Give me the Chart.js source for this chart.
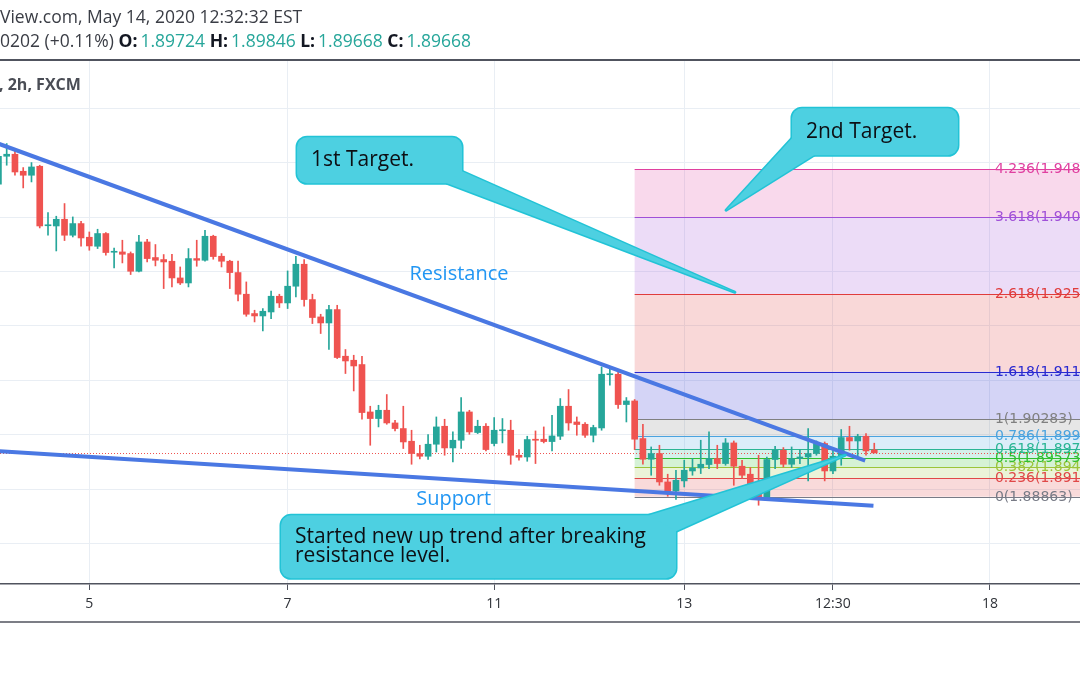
<!DOCTYPE html>
<html>
<head>
<meta charset="utf-8">
<script src="https://cdn.jsdelivr.net/npm/chart.js@4/dist/chart.umd.min.js"></script>
<style>
  html, body { margin: 0; padding: 0; background: #fff; }
  #marco { position: relative; width: 1080px; height: 675px; overflow: hidden; }
  #grafica { position: absolute; left: 0; top: 0; }
  .cab { position: absolute; left: 0; white-space: nowrap; font-family: "Open Sans", sans-serif; color: #3a3d45; }
  #linea1 { top: 4px; font-size: 17.5px; }
  #linea2 { top: 28px; font-size: 17.5px; }
  #linea2 b { color: #131722; }
  #linea2 span { color: #26a69a; margin-left: 3px; }
  #simbolo { top: 73px; left: -1px; font-size: 16px; font-weight: bold; color: #4a4d55; }
</style>
</head>
<body>
<div id="marco">
  <canvas id="grafica" width="1080" height="675"></canvas>
  <div class="cab" id="linea1">View.com, May 14, 2020 12:32:32 EST</div>
  <div class="cab" id="linea2">0202 (+0.11%) <b>O:</b><span>1.89724</span> <b>H:</b><span>1.89846</span> <b>L:</b><span>1.89668</span> <b>C:</b><span>1.89668</span></div>
  <div class="cab" id="simbolo">, 2h, FXCM</div>
</div>
<script>
// velas de 2h, GBP/CAD aprox. (indice de vela en el eje x)
const aperturas = [
  1.94603, 1.95118, 1.95155, 1.94842, 1.94769, 1.94934, 1.93841, 1.93837, 1.93960, 1.93667,
  1.93881, 1.93630, 1.93464, 1.93698, 1.93354, 1.93360, 1.93330, 1.93005, 1.93543, 1.93257,
  1.93220, 1.93189, 1.92882, 1.92790, 1.93238, 1.93207, 1.93648, 1.93281, 1.93189, 1.92981,
  1.92583, 1.92228, 1.92184, 1.92257, 1.92546, 1.92423, 1.92730, 1.93134, 1.92485, 1.92166,
  1.92055, 1.92301, 1.91444, 1.91370, 1.91291, 1.90420, 1.90299, 1.90451, 1.90218, 1.90115,
  1.89882, 1.89656, 1.89606, 1.89827, 1.90157, 1.89759, 1.89900, 1.90420, 1.90042, 1.90157,
  1.89840, 1.90075, 1.90084, 1.89625, 1.89593, 1.89919, 1.89919, 1.89876, 1.89974, 1.90525,
  1.90236, 1.90194, 1.89992, 1.90126, 1.91104, 1.91113, 1.90556, 1.90622, 1.89931, 1.89551,
  1.89656, 1.89134, 1.88969, 1.89153, 1.89336, 1.89391, 1.89454, 1.89564, 1.89472, 1.89851,
  1.89423, 1.89276, 1.89042, 1.88848, 1.89546, 1.89717, 1.89459, 1.89564, 1.89593, 1.89656,
  1.89840, 1.89336, 1.89606, 1.89950, 1.89887, 1.89974, 1.89724
];
const maximos = [
  1.95228, 1.95351, 1.95215, 1.94910, 1.95002, 1.94953, 1.94084, 1.94016, 1.94249, 1.94003,
  1.93924, 1.93727, 1.93777, 1.93716, 1.93433, 1.93575, 1.93360, 1.93667, 1.93593, 1.93496,
  1.93312, 1.93317, 1.93084, 1.93422, 1.93575, 1.93758, 1.93667, 1.93330, 1.93207, 1.93194,
  1.92809, 1.92289, 1.92320, 1.92643, 1.92583, 1.93011, 1.93281, 1.93220, 1.92583, 1.92215,
  1.92380, 1.92380, 1.91567, 1.91462, 1.91444, 1.90525, 1.90543, 1.90740, 1.90268, 1.90525,
  1.90084, 1.89808, 1.90005, 1.90328, 1.90286, 1.90053, 1.90685, 1.90451, 1.90268, 1.90207,
  1.90317, 1.90299, 1.90268, 1.89729, 1.89974, 1.90071, 1.90145, 1.90360, 1.90666, 1.90832,
  1.90328, 1.90225, 1.90176, 1.91247, 1.91260, 1.91186, 1.90685, 1.90648, 1.90194, 1.89777,
  1.89808, 1.89276, 1.89349, 1.89533, 1.89564, 1.89900, 1.90053, 1.89808, 1.89931, 1.89887,
  1.89533, 1.89399, 1.89625, 1.89593, 1.89790, 1.89766, 1.89777, 1.89729, 1.90115, 1.89887,
  1.89869, 1.89717, 1.90097, 1.90157, 1.90010, 1.90023, 1.89846
];
const minimos = [
  1.94548, 1.94953, 1.94769, 1.94536, 1.94646, 1.93801, 1.93667, 1.93378, 1.93569, 1.93635,
  1.93464, 1.93391, 1.93422, 1.93299, 1.93066, 1.93158, 1.92945, 1.92992, 1.93176, 1.93103,
  1.92687, 1.92717, 1.92761, 1.92717, 1.93097, 1.93189, 1.93226, 1.93084, 1.92687, 1.92459,
  1.92178, 1.92074, 1.91908, 1.92136, 1.92338, 1.92320, 1.92533, 1.92362, 1.92044, 1.91861,
  1.91567, 1.91401, 1.91126, 1.90806, 1.90286, 1.89808, 1.90145, 1.90194, 1.90071, 1.89748,
  1.89459, 1.89557, 1.89546, 1.89685, 1.89625, 1.89502, 1.89748, 1.90010, 1.90023, 1.89704,
  1.89796, 1.89851, 1.89459, 1.89533, 1.89514, 1.89472, 1.89851, 1.89704, 1.89913, 1.90084,
  1.89992, 1.89950, 1.89869, 1.90084, 1.90911, 1.90483, 1.90236, 1.89729, 1.89459, 1.89257,
  1.89073, 1.88871, 1.88811, 1.89042, 1.89257, 1.89288, 1.89380, 1.89380, 1.89441, 1.89073,
  1.89197, 1.88890, 1.88706, 1.88829, 1.89380, 1.89410, 1.89399, 1.89472, 1.89153, 1.89625,
  1.89153, 1.89288, 1.89441, 1.89717, 1.89606, 1.89625, 1.89668
];
const cierres = [
  1.95118, 1.95155, 1.94829, 1.94769, 1.94921, 1.93837, 1.93859, 1.93960, 1.93667, 1.93881,
  1.93617, 1.93470, 1.93698, 1.93349, 1.93367, 1.93317, 1.93005, 1.93543, 1.93238, 1.93207,
  1.93176, 1.92882, 1.92790, 1.93238, 1.93207, 1.93648, 1.93275, 1.93189, 1.92981, 1.92583,
  1.92215, 1.92184, 1.92270, 1.92546, 1.92423, 1.92730, 1.93134, 1.92485, 1.92155, 1.92055,
  1.92301, 1.91420, 1.91357, 1.91265, 1.90409, 1.90299, 1.90451, 1.90218, 1.90115, 1.89869,
  1.89656, 1.89606, 1.89827, 1.90145, 1.89759, 1.89900, 1.90420, 1.90053, 1.90157, 1.89729,
  1.90084, 1.90093, 1.89625, 1.89588, 1.89913, 1.89900, 1.89876, 1.89979, 1.90525, 1.90218,
  1.90189, 1.89992, 1.90134, 1.91113, 1.91122, 1.90556, 1.90622, 1.89919, 1.89551, 1.89656,
  1.89134, 1.88969, 1.89165, 1.89349, 1.89391, 1.89459, 1.89564, 1.89472, 1.89851, 1.89423,
  1.89257, 1.89031, 1.88848, 1.89546, 1.89717, 1.89459, 1.89564, 1.89593, 1.89656, 1.89840,
  1.89336, 1.89606, 1.89950, 1.89887, 1.89974, 1.89704, 1.89668
];

// eje de tiempo
const marcasIdx = [11, 35, 60, 83, 101, 120];
const marcasTexto = ["5", "7", "11", "13", "12:30", "18"];
// rejilla de precios
const rejillaPrecios = [1.88, 1.89, 1.90, 1.91, 1.92, 1.93, 1.94, 1.95, 1.96];

// lineas de tendencia [indice, precio]
const resistencia = [[0, 1.95349], [104.9, 1.89524]];
const soporte = [[0, 1.89700], [105.9, 1.88697]];

// extension de Fibonacci
const fibNiveles = [0, 0.236, 0.382, 0.5, 0.618, 0.786, 1, 1.618, 2.618, 3.618, 4.236];
const fibPrecios = [1.88863, 1.89198, 1.89405, 1.89573, 1.89741, 1.89979, 1.90283, 1.91161, 1.92581, 1.94001, 1.94878];
const fibColores = ["#787b86", "#e04848", "#9cc43a", "#2fbf2f", "#2bb594", "#4aa3df", "#808080", "#2a2ad0", "#e03c3c", "#a050d8", "#e040a0"];
const fibInicio = 77;
const fibEtiquetaIdx = 120.6;

const precioActual = 1.89668;

const verde = "#26a69a";
const rojo = "#ef5350";
const indices = aperturas.map((_, i) => i);
const coloresVela = indices.map((i) => (cierres[i] >= aperturas[i] ? verde : rojo));

function conAlfa(hex, a) {
    const n = parseInt(hex.slice(1), 16);
    return `rgba(${n >> 16}, ${(n >> 8) & 255}, ${n & 255}, ${a})`;
}

// Globos de texto (caja anclada a indice/precio, tamano en px)
const globos = [
    { lineas: ["1st Target."], ix: 36.14, precio: 1.95467, ancho: 165, alto: 46,
      puntaIx: 89.14, puntaPrecio: 1.92619, base: [[150, 46], [165, 34]] },
    { lineas: ["2nd Target."], ix: 96.04, precio: 1.96000, ancho: 166, alto: 47,
      puntaIx: 88.06, puntaPrecio: 1.94126, base: [[0, 30], [22, 47]] },
    { lineas: ["Started new up trend after breaking", "resistance level."], ix: 34.2, precio: 1.88522, ancho: 395, alto: 63,
      puntaIx: 102.5, puntaPrecio: 1.89625, base: [[368, 0], [395, 16]] },
];

const textosLibres = [
    { texto: "Resistance", ix: 55.74, precio: 1.92950 },
    { texto: "Support", ix: 55.1, precio: 1.88816 },
];

const fibPlugin = {
    id: "fibExtension",
    beforeDatasetsDraw(chart) {
        const { ctx, chartArea, scales: { x, y } } = chart;
        const izq = x.getPixelForValue(fibInicio);
        const der = chartArea.right;
        ctx.save();
        ctx.beginPath();
        ctx.rect(chartArea.left, chartArea.top, chartArea.right - chartArea.left, chartArea.bottom - chartArea.top);
        ctx.clip();
        for (let k = 1; k < fibPrecios.length; k++) {
            const arriba = y.getPixelForValue(fibPrecios[k]);
            const abajo = y.getPixelForValue(fibPrecios[k - 1]);
            ctx.fillStyle = conAlfa(fibColores[k], 0.2);
            ctx.fillRect(izq, arriba, der - izq, abajo - arriba);
        }
        ctx.lineWidth = 1.2;
        ctx.font = '14px "DejaVu Sans"';
        ctx.textBaseline = "middle";
        const etiquetaX = x.getPixelForValue(fibEtiquetaIdx);
        fibPrecios.forEach((p, k) => {
            const py = Math.round(y.getPixelForValue(p)) + 0.5;
            ctx.strokeStyle = fibColores[k];
            ctx.beginPath();
            ctx.moveTo(izq, py);
            ctx.lineTo(der, py);
            ctx.stroke();
            ctx.fillStyle = fibColores[k];
            ctx.fillText(`${fibNiveles[k]}(${p.toFixed(5)})`, etiquetaX, py);
        });
        // linea de precio actual
        const py = Math.round(y.getPixelForValue(precioActual)) + 0.5;
        ctx.strokeStyle = rojo;
        ctx.lineWidth = 1;
        ctx.setLineDash([1, 2]);
        ctx.beginPath();
        ctx.moveTo(chartArea.left, py);
        ctx.lineTo(chartArea.right, py);
        ctx.stroke();
        ctx.restore();
    },
};

const notasPlugin = {
    id: "notas",
    afterDatasetsDraw(chart) {
        const { ctx, scales: { x, y } } = chart;
        ctx.save();
        ctx.font = '20px "Open Sans"';
        ctx.fillStyle = "#2196f3";
        ctx.textAlign = "center";
        ctx.textBaseline = "middle";
        textosLibres.forEach((t) => {
            ctx.fillText(t.texto, x.getPixelForValue(t.ix), y.getPixelForValue(t.precio));
        });

        globos.forEach((g) => {
            const bx = x.getPixelForValue(g.ix);
            const by = y.getPixelForValue(g.precio);
            const tx = x.getPixelForValue(g.puntaIx);
            const ty = y.getPixelForValue(g.puntaPrecio);
            const caja = () => {
                ctx.beginPath();
                ctx.roundRect(bx, by, g.ancho, g.alto, 10);
            };
            const cola = () => {
                ctx.beginPath();
                ctx.moveTo(bx + g.base[0][0], by + g.base[0][1]);
                ctx.lineTo(tx, ty);
                ctx.lineTo(bx + g.base[1][0], by + g.base[1][1]);
                ctx.closePath();
            };
            ctx.lineWidth = 3;
            ctx.lineJoin = "round";
            ctx.strokeStyle = "#22c3d6";
            caja(); ctx.stroke();
            cola(); ctx.stroke();
            ctx.fillStyle = "#4dd0e1";
            caja(); ctx.fill();
            cola(); ctx.fill();

            ctx.fillStyle = "#0d0f14";
            ctx.textAlign = "left";
            ctx.font = '21px "Open Sans"';
            const alturaLinea = 19;
            const y0 = by + g.alto / 2 - ((g.lineas.length - 1) * alturaLinea) / 2;
            g.lineas.forEach((l, n) => ctx.fillText(l, bx + 14, y0 + n * alturaLinea));
        });
        ctx.restore();
    },
    afterDraw(chart) {
        const { ctx } = chart;
        ctx.save();
        ctx.strokeStyle = "#50535e";
        ctx.lineWidth = 2;
        ctx.beginPath();
        ctx.moveTo(0, 60);
        ctx.lineTo(1080, 60);
        ctx.stroke();
        ctx.lineWidth = 1.5;
        ctx.beginPath();
        ctx.moveTo(0, 622);
        ctx.lineTo(1080, 622);
        ctx.stroke();
        ctx.restore();
    },
};

const ctxVelas = document.getElementById("grafica").getContext("2d");

new Chart(ctxVelas, {
    type: "bar",
    data: {
        datasets: [
            {
                label: "Resistencia",
                type: "line",
                data: resistencia.map(([i, p]) => ({ x: i, y: p })),
                borderColor: "#4a78e3",
                borderWidth: 4,
                pointRadius: 0,
                order: 1,
            },
            {
                label: "Soporte",
                type: "line",
                data: soporte.map(([i, p]) => ({ x: i, y: p })),
                borderColor: "#4a78e3",
                borderWidth: 4,
                pointRadius: 0,
                order: 1,
            },
            {
                label: "Cuerpos",
                data: indices.map((i) => ({ x: i, y: [aperturas[i], cierres[i]] })),
                backgroundColor: coloresVela,
                barThickness: 6,
                minBarLength: 1,
                grouped: false,
                order: 3,
            },
            {
                label: "Mechas",
                data: indices.map((i) => ({ x: i, y: [minimos[i], maximos[i]] })),
                backgroundColor: coloresVela,
                barThickness: 1,
                grouped: false,
                order: 4,
            },
        ],
    },
    options: {
        responsive: false,
        animation: false,
        layout: { padding: { top: 61, left: 0, right: 0, bottom: 0 } },
        plugins: {
            legend: { display: false },
            tooltip: { enabled: false },
        },
        scales: {
            x: {
                type: "linear",
                offset: false,
                min: 0.19,
                max: 130.9,
                afterBuildTicks: (scale) => {
                    scale.ticks = marcasIdx.map((v) => ({ value: v }));
                },
                afterFit: (scale) => {
                    scale.height = 91;
                },
                ticks: {
                    autoSkip: false,
                    maxRotation: 0,
                    padding: 6,
                    color: "#2f3238",
                    font: { family: "Open Sans", size: 14 },
                    callback: (v) => marcasTexto[marcasIdx.indexOf(v)],
                },
                grid: { offset: false, color: "#e9eef4", tickLength: 6, tickColor: "#50535e" },
                border: { color: "#50535e", width: 1.5 },
            },
            y: {
                min: 1.87259,
                max: 1.96868,
                afterBuildTicks: (scale) => {
                    scale.ticks = rejillaPrecios.map((v) => ({ value: v }));
                },
                afterFit: (scale) => {
                    scale.width = 0;
                },
                ticks: { display: false },
                grid: { color: "#e9eef4", drawTicks: false },
                border: { display: false },
            },
        },
    },
    plugins: [fibPlugin, notasPlugin],
});
</script>
</body>
</html>
